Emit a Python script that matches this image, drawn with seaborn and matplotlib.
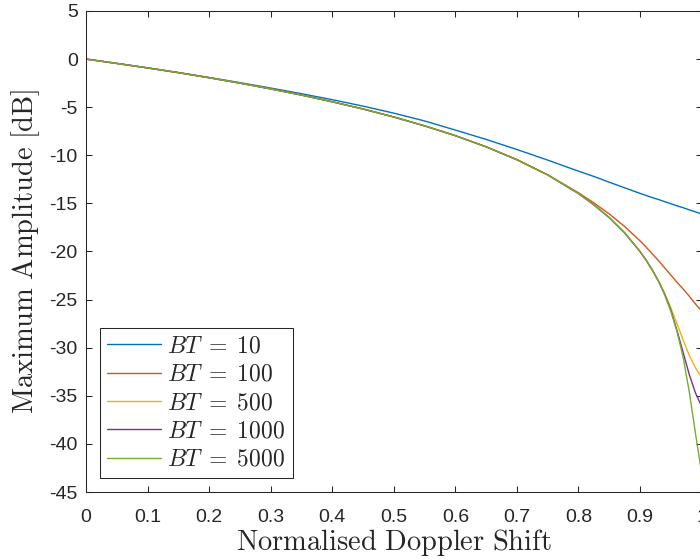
import numpy as np
import pandas as pd
import seaborn as sns
import matplotlib
matplotlib.use("Agg")
import matplotlib.pyplot as plt
from matplotlib.ticker import FixedLocator, FuncFormatter

# Normalised Doppler shift samples (shared by every curve)
doppler = [0.0, 0.05, 0.10, 0.15, 0.20, 0.25, 0.30, 0.35, 0.40, 0.45, 0.50,
           0.55, 0.60, 0.65, 0.70, 0.75, 0.80, 0.825, 0.85, 0.875, 0.90,
           0.91, 0.92, 0.93, 0.94, 0.95, 0.96, 0.97, 0.98, 0.99, 1.00]

# Maximum amplitude [dB] per time-bandwidth product
amp_bt10 = [0.0, -0.45, -0.91, -1.40, -1.91, -2.45, -3.01, -3.60, -4.22, -4.89, -5.62,
            -6.43, -7.38, -8.35, -9.40, -10.50, -11.65, -12.20, -12.80, -13.38, -13.96,
            -14.18, -14.40, -14.60, -14.82, -15.03, -15.25, -15.45, -15.67, -15.88, -16.10]
amp_bt100 = [0.0, -0.45, -0.92, -1.41, -1.94, -2.50, -3.10, -3.74, -4.44, -5.19, -6.02,
             -6.94, -7.96, -9.12, -10.46, -12.03, -13.90, -14.95, -16.10, -17.40, -18.90,
             -19.55, -20.25, -20.95, -21.70, -22.45, -23.20, -23.90, -24.65, -25.45, -26.20]
amp_bt500 = [0.0, -0.45, -0.92, -1.41, -1.94, -2.50, -3.10, -3.74, -4.44, -5.19, -6.02,
             -6.94, -7.96, -9.12, -10.46, -12.04, -13.98, -15.15, -16.48, -18.06, -20.00,
             -20.92, -21.94, -23.05, -24.35, -25.85, -27.50, -29.20, -30.80, -32.10, -33.10]
amp_bt1000 = [0.0, -0.45, -0.92, -1.41, -1.94, -2.50, -3.10, -3.74, -4.44, -5.19, -6.02,
              -6.94, -7.96, -9.12, -10.46, -12.04, -13.98, -15.15, -16.48, -18.06, -20.00,
              -20.92, -21.94, -23.10, -24.45, -26.10, -28.20, -30.50, -32.80, -34.70, -36.10]
amp_bt5000 = [0.0, -0.45, -0.92, -1.41, -1.94, -2.50, -3.10, -3.74, -4.44, -5.19, -6.02,
              -6.94, -7.96, -9.12, -10.46, -12.04, -13.98, -15.15, -16.48, -18.06, -20.00,
              -20.92, -21.94, -23.10, -24.50, -26.20, -28.30, -31.00, -34.60, -38.90, -43.00]

series_labels = [r"$BT\;=\;10$", r"$BT\;=\;100$", r"$BT\;=\;500$",
                 r"$BT\;=\;1000$", r"$BT\;=\;5000$"]
series_values = [amp_bt10, amp_bt100, amp_bt500, amp_bt1000, amp_bt5000]
colors = ["#0072BD", "#D95319", "#EDB120", "#7E2F8E", "#77AC30"]

x_ticks = [0.0, 0.1, 0.2, 0.3, 0.4, 0.5, 0.6, 0.7, 0.8, 0.9, 1.0]
y_ticks = [-45, -40, -35, -30, -25, -20, -15, -10, -5, 0, 5]

frames = [pd.DataFrame({"nu": doppler, "amp": vals, "series": lab})
          for lab, vals in zip(series_labels, series_values)]
df = pd.concat(frames, ignore_index=True)

sns.set_theme(style="ticks")
plt.rcParams["font.family"] = ["Liberation Sans", "DejaVu Sans"]
plt.rcParams["mathtext.fontset"] = "cm"
plt.rcParams["axes.unicode_minus"] = False

axis_col = "#262626"
fig = plt.figure(figsize=(7.0, 5.6), dpi=100)
ax = fig.add_axes([0.1229, 0.1214, 0.8794, 0.8590])

sns.lineplot(data=df, x="nu", y="amp", hue="series", palette=colors,
             hue_order=series_labels, estimator=None, linewidth=1.0, ax=ax)

ax.set_xlim(0, 1)
ax.set_ylim(-45, 5)
ax.xaxis.set_major_locator(FixedLocator(x_ticks))
ax.yaxis.set_major_locator(FixedLocator(y_ticks))
fmt = FuncFormatter(lambda v, p: f"{v:g}")
ax.xaxis.set_major_formatter(fmt)
ax.yaxis.set_major_formatter(fmt)

ax.tick_params(axis="both", which="major", direction="in", length=4.5, width=0.75,
               color=axis_col, labelcolor=axis_col, labelsize=14,
               top=True, right=True)
ax.tick_params(axis="x", pad=12)
ax.tick_params(axis="y", pad=6)
for sp in ax.spines.values():
    sp.set_visible(True)
    sp.set_color(axis_col)
    sp.set_linewidth(0.75)

ax.set_xlabel(r"$\mathrm{Normalised\ Doppler\ Shift}$", fontsize=20.5,
              color=axis_col, labelpad=1)
ax.set_ylabel(r"$\mathrm{Maximum\ Amplitude\ [dB]}$", fontsize=20.5,
              color=axis_col, labelpad=5)

handles, labels = ax.get_legend_handles_labels()
leg = ax.legend(handles, labels, loc="lower left",
                bbox_to_anchor=(0.0228, 0.029), borderaxespad=0,
                fontsize=17, frameon=True, fancybox=False, shadow=False,
                edgecolor=axis_col, framealpha=1, handlelength=2.3,
                handletextpad=0.25, labelspacing=0.27, borderpad=0.3)
leg.get_frame().set_linewidth(0.75)
for line in leg.get_lines():
    line.set_linewidth(1.0)

fig.savefig("out.png", dpi=100)
